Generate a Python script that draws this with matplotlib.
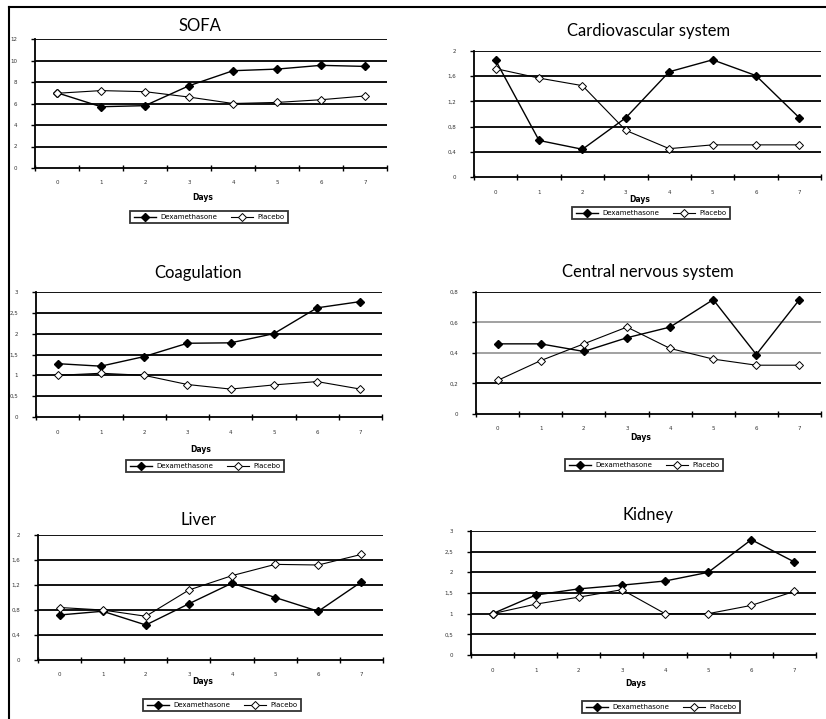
import numpy as np
import matplotlib
matplotlib.use('Agg')
from matplotlib import pyplot as plt
from matplotlib.lines import Line2D

days = [0, 1, 2, 3, 4, 5, 6, 7]
day_labels = ['0', '1', '2', '3', '4', '5', '6', '7']

sofa_dex = [7.0, 5.7, 5.8, 7.65, 9.05, 9.2, 9.55, 9.45]
sofa_pla = [6.95, 7.2, 7.1, 6.6, 6.0, 6.1, 6.35, 6.7]

cardio_dex = [1.85, 0.58, 0.44, 0.94, 1.67, 1.86, 1.61, 0.94]
cardio_pla = [1.72, 1.57, 1.45, 0.74, 0.45, 0.51, 0.51, 0.51]

coag_dex = [1.28, 1.22, 1.45, 1.77, 1.78, 2.0, 2.62, 2.77]
coag_pla = [1.0, 1.05, 1.0, 0.78, 0.67, 0.77, 0.85, 0.67]

cns_dex = [0.46, 0.46, 0.41, 0.50, 0.57, 0.75, 0.39, 0.75]
cns_pla = [0.22, 0.35, 0.46, 0.57, 0.43, 0.36, 0.32, 0.32]

liver_dex = [0.72, 0.78, 0.56, 0.90, 1.23, 1.0, 0.78, 1.25]
liver_pla = [0.84, 0.8, 0.70, 1.12, 1.35, 1.53, 1.52, 1.69]

kidney_dex = [1.0, 1.45, 1.6, 1.69, 1.79, 2.0, 2.79, 2.25]
kidney_pla = [1.0, 1.23, 1.4, 1.58, 1.0, 1.0, 1.2, 1.54]

W, H = 826, 719
fig = plt.figure(figsize=(W / 100, H / 100), dpi=100)
fig.patch.set_facecolor('white')

# outer frame (left and top lines of the scanned page)
fig.add_artist(Line2D([9 / W, 9 / W], [0, 1 - 7 / H], color='black', lw=1.5))
fig.add_artist(Line2D([9 / W, 1], [1 - 7 / H, 1 - 7 / H], color='black', lw=1.5))

title_font = ['Lato', 'DejaVu Sans']


def panel(box, title, title_xy, dex, pla, ymax, ystep, ylabels,
          days_y, legend_xy, gray_lines=()):
    l, t, r, b = box
    ax = fig.add_axes([l / W, 1 - b / H, (r - l) / W, (b - t) / H])
    yt = np.arange(0, ymax + ystep / 2, ystep)
    for v in yt[1:]:
        c = '#9a9a9a' if round(v, 3) in gray_lines else 'black'
        ax.axhline(v, color=c, lw=1.3, zorder=1)
    ax.plot(days, dex, color='black', lw=1, marker='D', ms=3.8,
            mfc='black', mec='black', zorder=3, label='Dexamethasone')
    ax.plot(days, pla, color='black', lw=0.8, marker='D', ms=3.8,
            mfc='white', mec='black', mew=0.7, zorder=3, label='Placebo')
    ax.set_xlim(-0.5, 7.5)
    ax.set_ylim(0, ymax)
    ax.set_xticks(days)
    ax.set_xticklabels(day_labels, fontsize=4, color='#333333')
    ax.set_xticks(np.arange(-0.5, 8, 1), minor=True)
    ax.tick_params(axis='x', which='major', length=0, pad=9)
    ax.tick_params(axis='x', which='minor', length=5, direction='inout',
                   width=1)
    ax.set_yticks(yt)
    ax.set_yticklabels(ylabels, fontsize=4, color='#333333')
    ax.tick_params(axis='y', length=3, width=1, pad=10)
    for s in ['top', 'right']:
        ax.spines[s].set_visible(False)
    for s in ['left', 'bottom']:
        ax.spines[s].set_linewidth(1.3)
    ax.patch.set_alpha(0)
    fig.text(title_xy[0] / W, 1 - title_xy[1] / H, title, fontsize=12,
             ha='center', va='center', family=title_font)
    fig.text((l + r) / 2 / W - 0.01, 1 - days_y / H, 'Days', fontsize=5.5,
             ha='center', va='center', fontweight='bold')
    leg = ax.legend(loc='center', bbox_to_anchor=(legend_xy[0] / W, 1 - legend_xy[1] / H),
                    bbox_transform=fig.transFigure, ncol=2, fontsize=5,
                    frameon=True, fancybox=False, edgecolor='black',
                    handlelength=3.2, columnspacing=2, borderpad=0.5,
                    handletextpad=0.6)
    leg.get_frame().set_linewidth(1.3)
    return ax


panel((35, 39, 387, 168), 'SOFA', (200, 26), sofa_dex, sofa_pla,
      12, 2, ['0', '2', '4', '6', '8', '10', '12'], 197, (209, 217))

panel((474, 51, 821, 177), 'Cardiovascular system', (649, 31),
      cardio_dex, cardio_pla, 2, 0.4,
      ['0', '0,4', '0,8', '1,2', '1,6', '2'], 199, (651, 213))

panel((36, 292, 382, 417), 'Coagulation', (198, 273), coag_dex, coag_pla,
      3, 0.5, ['0', '0,5', '1', '1,5', '2', '2,5', '3'], 450, (205, 466))

panel((476, 292, 821, 414), 'Central nervous system', (648, 272),
      cns_dex, cns_pla, 0.8, 0.2,
      ['0', '0,2', '0,4', '0,6', '0,8'], 437, (644, 465),
      gray_lines=(0.4, 0.6))

panel((38, 535, 383, 660), 'Liver', (198, 520), liver_dex, liver_pla,
      2, 0.4, ['0', '0,4', '0,8', '1,2', '1,6', '2'], 682, (222, 705))

panel((471, 531, 816, 655), 'Kidney', (648, 515), kidney_dex, kidney_pla,
      3, 0.5, ['0', '0,5', '1', '1,5', '2', '2,5', '3'], 683, (661, 707))

fig.savefig('out.png', dpi=100)
